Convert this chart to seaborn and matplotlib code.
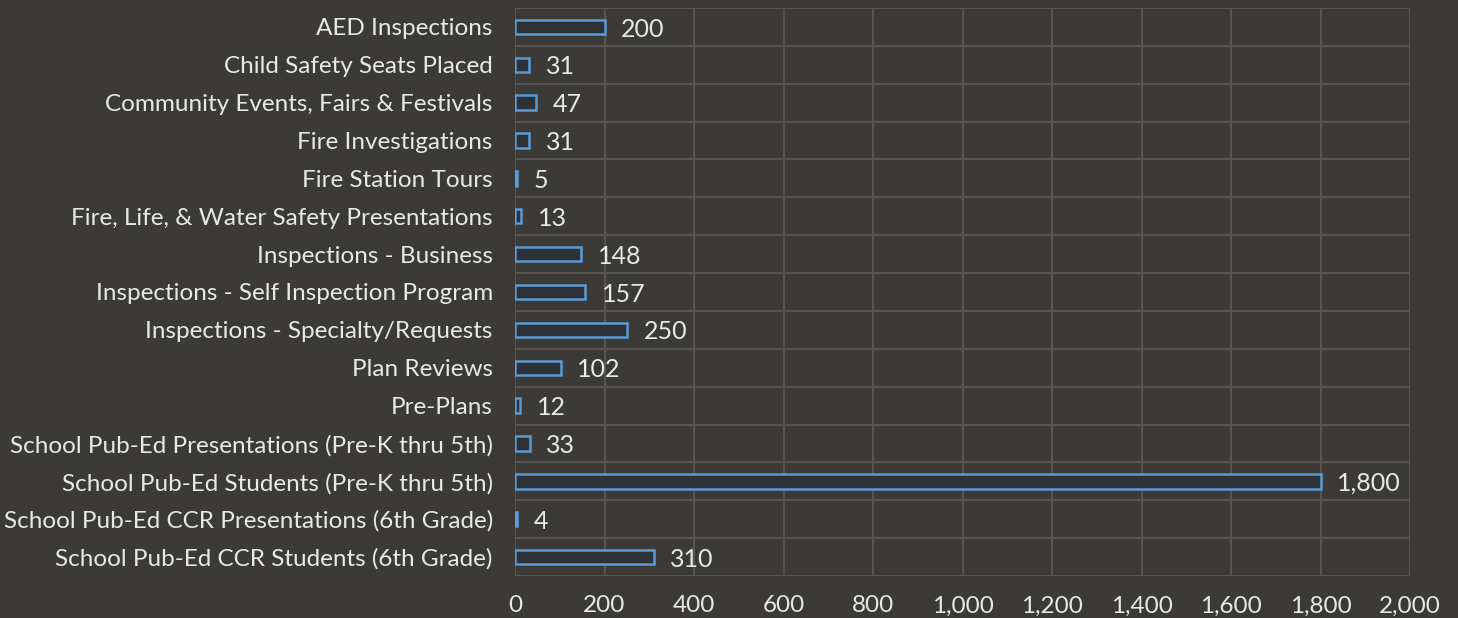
import matplotlib
matplotlib.use("Agg")
import matplotlib.pyplot as plt
import seaborn as sns
import pandas as pd
import numpy as np
from matplotlib.ticker import FuncFormatter, FixedLocator

categories = [
    "AED Inspections",
    "Child Safety Seats Placed",
    "Community Events, Fairs & Festivals",
    "Fire Investigations",
    "Fire Station Tours",
    "Fire, Life, & Water Safety Presentations",
    "Inspections - Business",
    "Inspections - Self Inspection Program",
    "Inspections - Specialty/Requests",
    "Plan Reviews",
    "Pre-Plans",
    "School Pub-Ed Presentations (Pre-K thru 5th)",
    "School Pub-Ed Students (Pre-K thru 5th)",
    "School Pub-Ed CCR Presentations (6th Grade)",
    "School Pub-Ed CCR Students (6th Grade)",
]
values = [200, 31, 47, 31, 5, 13, 148, 157, 250, 102, 12, 33, 1800, 4, 310]
x_ticks = [0, 200, 400, 600, 800, 1000, 1200, 1400, 1600, 1800, 2000]

BG = "#3b3a37"
GRID = "#555452"
TXT = "#e8e8e8"
EDGE = "#5b9bd5"
FILL = "#2e3136"

df = pd.DataFrame({"category": categories, "value": values})

sns.set_theme(style="dark")
plt.rcParams["font.family"] = ["Lato", "DejaVu Sans"]
plt.rcParams["text.color"] = TXT

fig = plt.figure(figsize=(14.58, 6.18), dpi=100, facecolor=BG)
ax = fig.add_axes([515/1458, 1-576/618, (1410-515)/1458, (576-8)/618])
ax.set_facecolor(BG)

sns.barplot(data=df, x="value", y="category", orient="h", ax=ax,
            color=FILL, edgecolor=EDGE, linewidth=1.8, width=0.38, saturation=1)

ax.set_xlim(0, 2000)
ax.set_ylim(len(categories) - 0.5, -0.5)
ax.xaxis.set_major_locator(FixedLocator(x_ticks))
ax.xaxis.set_major_formatter(FuncFormatter(lambda v, p: f"{int(v):,}"))
ax.set_yticks(range(len(categories)))
ax.set_yticks(np.arange(-0.5, len(categories), 1), minor=True)

ax.grid(False)
ax.xaxis.grid(True, which="major", color=GRID, linewidth=1.5)
ax.yaxis.grid(True, which="minor", color=GRID, linewidth=1.5)
ax.set_axisbelow(True)
for s in ax.spines.values():
    s.set_visible(False)

ax.tick_params(axis="both", which="both", length=0)
ax.tick_params(axis="y", pad=16, labelsize=17.5, labelcolor=TXT)
ax.tick_params(axis="x", pad=14, labelsize=17.5, labelcolor=TXT)
ax.set_xlabel("")
ax.set_ylabel("")

for i, v in enumerate(values):
    ax.annotate(f"{v:,}", xy=(v, i), xytext=(12, -1.5), textcoords="offset points",
                va="center", ha="left", color=TXT, fontsize=18)

fig.savefig("out.png", dpi=100, facecolor=BG)
